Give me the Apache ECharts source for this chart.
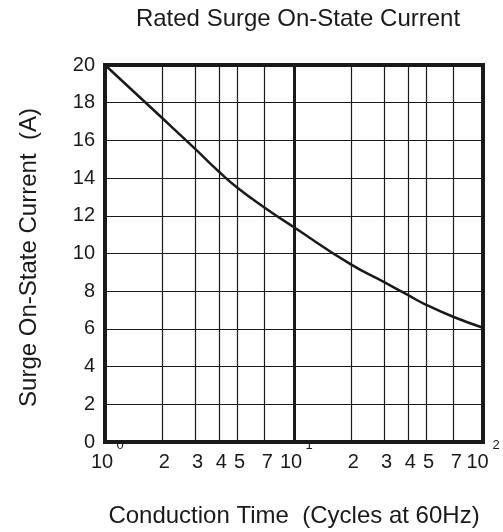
<!DOCTYPE html>
<html>
<head>
<meta charset="utf-8">
<script src="https://cdn.jsdelivr.net/npm/echarts@6/dist/echarts.min.js"></script>
<style>
html,body{margin:0;padding:0;background:#fff;}
#chart{width:503px;height:532px;}
</style>
</head>
<body>
<div id="chart"></div>
<script>
// Data
const cycles  = [1, 2, 3, 4, 5, 7, 10, 20, 30, 40, 50, 70, 100];
const current = [20, 17.2, 15.55, 14.35, 13.5, 12.43, 11.39, 9.42, 8.48, 7.8, 7.28, 6.63, 6.06];
const minorGridX = [2, 3, 4, 5, 7, 20, 30, 40, 50, 70];
const minorLabelX = ['2', '3', '4', '5', '7', '2', '3', '4', '5', '7'];
const yTicks = [0, 2, 4, 6, 8, 10, 12, 14, 16, 18, 20];

const FONT = 'Liberation Sans, Arial, Helvetica, sans-serif';
const TXT = '#1a1a1a';
const LINE = '#1a1a1a';

const chart = echarts.init(document.getElementById('chart'), null, {renderer: 'canvas'});

const markData = minorGridX.map((v, i) => ({
  xAxis: v,
  label: {formatter: minorLabelX[i]}
}));

chart.setOption({
  animation: false,
  backgroundColor: '#fff',
  title: {
    text: 'Rated Surge On-State Current',
    left: 293, top: 2, textAlign: 'center',
    textStyle: {fontFamily: FONT, fontSize: 24, fontWeight: 'normal', color: TXT}
  },
  grid: {
    left: 105, right: 20, top: 65, bottom: 90,
    outerBoundsMode: 'none',
    containLabel: false,
    show: true, borderColor: LINE, borderWidth: 4, backgroundColor: 'transparent'
  },
  xAxis: {
    type: 'log', logBase: 10, min: 1, max: 100,
    name: 'Conduction Time  (Cycles at 60Hz)',
    nameLocation: 'middle', nameGap: 62,
    nameTextStyle: {fontFamily: FONT, fontSize: 24, color: TXT},
    axisLine: {show: false},
    axisTick: {show: false},
    splitLine: {show: true, lineStyle: {color: LINE, width: 3}},
    axisLabel: {
      margin: -5,
      fontFamily: FONT, color: TXT,
      formatter: function (v) {
        const e = Math.round(Math.log10(v));
        if (e === 2) return '{e2|' + e + '}\n{b2|10}';
        return '{e|' + e + '}\n{b|10}';
      },
      rich: {
        e:  {fontFamily: FONT, fontSize: 13, lineHeight: 16, color: TXT, padding: [0, 0, 0, 30]},
        b:  {fontFamily: FONT, fontSize: 20, lineHeight: 18, color: TXT, padding: [0, 6, 0, 0]},
        e2: {fontFamily: FONT, fontSize: 13, lineHeight: 16, color: TXT, padding: [0, 0, 0, 26]},
        b2: {fontFamily: FONT, fontSize: 20, lineHeight: 18, color: TXT, padding: [0, 11, 0, 0]}
      }
    }
  },
  yAxis: {
    type: 'value', min: 0, max: 20, interval: 2,
    name: 'Surge On-State Current  (A)',
    nameLocation: 'middle', nameGap: 64, nameRotate: 90,
    nameTextStyle: {fontFamily: FONT, fontSize: 24, color: TXT, padding: [0, 8, 0, 0]},
    axisLine: {show: false},
    axisTick: {show: false},
    splitLine: {show: true, lineStyle: {color: LINE, width: 1.2}},
    axisLabel: {
      margin: 10, fontFamily: FONT, fontSize: 20, color: TXT,
      customValues: yTicks
    }
  },
  series: [{
    type: 'line',
    data: cycles.map((c, i) => [c, current[i]]),
    smooth: 0.5,
    symbol: 'none',
    lineStyle: {color: LINE, width: 2.5},
    z: 5,
    markLine: {
      silent: true,
      symbol: ['none', 'none'],
      animation: false,
      lineStyle: {color: LINE, width: 1.2, type: 'solid'},
      label: {
        show: true, position: 'start', distance: 10,
        fontFamily: FONT, fontSize: 20, color: TXT,
        padding: [0, 0, 0, 5]
      },
      emphasis: {disabled: true},
      data: markData
    }
  }]
});
</script>
</body>
</html>
